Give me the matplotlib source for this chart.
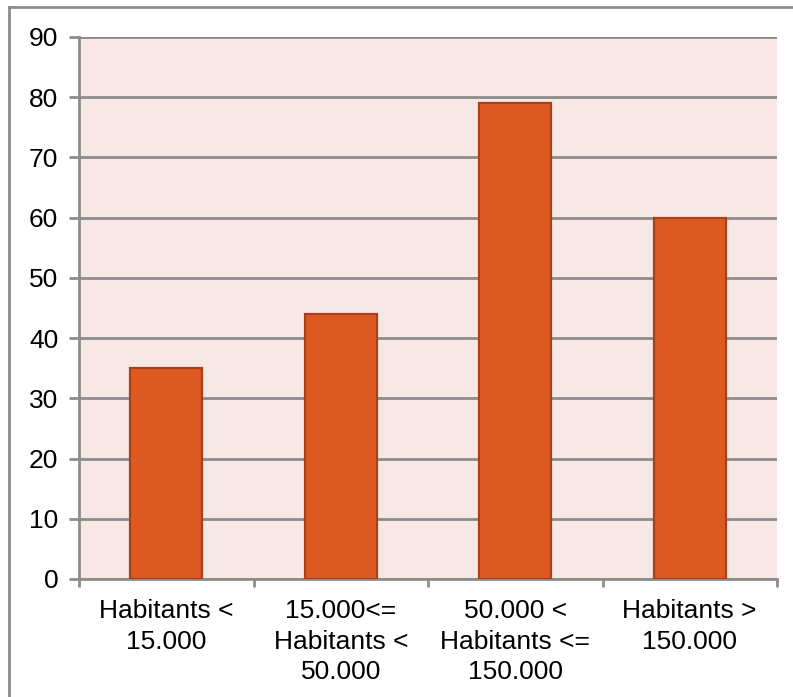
import matplotlib.pyplot as plt
from matplotlib.lines import Line2D

categories = ["Habitants <\n15.000", "15.000<=\nHabitants <\n50.000",
              "50.000 <\nHabitants <=\n150.000", "Habitants >\n150.000"]
values = [35, 44, 79, 60]
yticks = list(range(0, 91, 10))

plt.rcParams['font.family'] = ['Liberation Sans', 'DejaVu Sans']

W, H = 793, 697
fig = plt.figure(figsize=(W / 100, H / 100), dpi=100)
ax = fig.add_axes([79 / W, 1 - 579 / H, (777 - 79) / W, (579 - 37) / H])
ax.set_facecolor('#F8E8E5')

x = list(range(len(categories)))
ax.bar(x, values, width=0.41, color='#DC5A22', edgecolor='#A8401A', linewidth=1.6, zorder=3)

ax.set_xlim(-0.5, len(categories) - 0.5)
ax.set_ylim(0, 90)
ax.set_yticks(yticks)
ax.set_yticklabels([str(t) for t in yticks], fontsize=19)
ax.yaxis.grid(True, color='#8C8C8C', linewidth=2, zorder=1)
ax.set_axisbelow(True)

# category labels centred under each bar, ticks at boundaries
ax.set_xticks([i - 0.5 for i in range(len(categories) + 1)])
ax.set_xticklabels([])
ax.tick_params(axis='x', length=6, width=2, color='#8C8C8C')
ax.tick_params(axis='y', length=7, width=2, color='#8C8C8C', pad=8)
for i, lab in enumerate(categories):
    ax.text(i, -3.4, lab, ha='center', va='top', fontsize=19,
            linespacing=1.33, transform=ax.transData)

for side in ['top', 'right']:
    ax.spines[side].set_visible(False)
for side in ['left', 'bottom']:
    ax.spines[side].set_color('#8C8C8C')
    ax.spines[side].set_linewidth(2)

# outer chart border (top and left visible)
fig.add_artist(Line2D([9 / W, 1], [1 - 7 / H, 1 - 7 / H], color='#8C8C8C', linewidth=2))
fig.add_artist(Line2D([9 / W, 9 / W], [0, 1 - 7 / H], color='#8C8C8C', linewidth=2))

fig.savefig('out.png', dpi=100)
